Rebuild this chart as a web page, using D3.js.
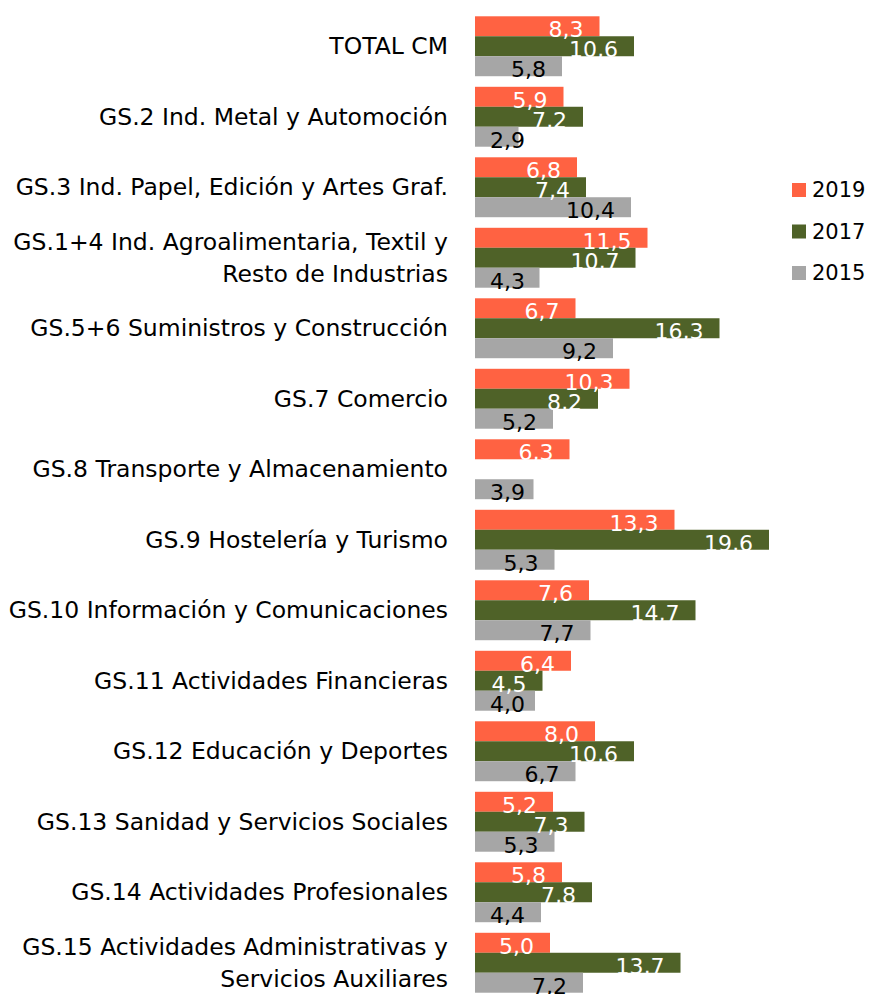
<!DOCTYPE html>
<html>
<head>
<meta charset="utf-8">
<script src="https://cdn.jsdelivr.net/npm/d3@7"></script>
<style>
  body { margin: 0; background: #fff; }
  text { font-family: "DejaVu Sans", Verdana, sans-serif; }
</style>
</head>
<body>
<script>
// categories (each label may wrap into two lines)
const categories = [
  ["TOTAL CM"],
  ["GS.2 Ind. Metal y Automoción"],
  ["GS.3 Ind. Papel, Edición y Artes Graf."],
  ["GS.1+4 Ind. Agroalimentaria, Textil y", "Resto de Industrias"],
  ["GS.5+6 Suministros y Construcción"],
  ["GS.7 Comercio"],
  ["GS.8 Transporte y Almacenamiento"],
  ["GS.9 Hostelería y Turismo"],
  ["GS.10 Información y Comunicaciones"],
  ["GS.11 Actividades Financieras"],
  ["GS.12 Educación y Deportes"],
  ["GS.13 Sanidad y Servicios Sociales"],
  ["GS.14 Actividades Profesionales"],
  ["GS.15 Actividades Administrativas y", "Servicios Auxiliares"]
]
const seriesNames = ["2019", "2017", "2015"]
const values2019 = [8.3, 5.9, 6.8, 11.5, 6.7, 10.3, 6.3, 13.3, 7.6, 6.4, 8.0, 5.2, 5.8, 5.0]
const values2017 = [10.6, 7.2, 7.4, 10.7, 16.3, 8.2, null, 19.6, 14.7, 4.5, 10.6, 7.3, 7.8, 13.7]
const values2015 = [5.8, 2.9, 10.4, 4.3, 9.2, 5.2, 3.9, 5.3, 7.7, 4.0, 6.7, 5.3, 4.4, 7.2]
const colors = ["#FF6242", "#4F6228", "#A6A6A6"]
const labelColors = ["#fff", "#fff", "#000"]

const width = 872, height = 994
const x0 = 475

const svg = d3.select("body").append("svg")
    .attr("width", width)
    .attr("height", height)

const keys = categories.map((c, i) => i)
const seriesValues = [values2019, values2017, values2015]

// x scale: 15 px per unit
const x = d3.scaleLinear()
    .domain([0, 20])
    .range([x0, x0 + 300])

const y = d3.scaleBand()
    .domain(keys)
    .range([11, 998])
    .paddingInner(0.15)
    .paddingOuter(0.075)

const ySub = d3.scaleBand()
    .domain([0, 1, 2])
    .range([0, y.bandwidth()])

// category labels
const catG = svg.append("g")
categories.forEach(function(lines, i) {
  const cy = y(i) + y.bandwidth() / 2
  const t = catG.append("text")
      .attr("x", 448)
      .attr("text-anchor", "end")
      .attr("font-size", 23.5)
      .attr("fill", "#000")
  const lh = 32
  lines.forEach(function(l, j) {
    t.append("tspan")
        .attr("x", 448)
        .attr("y", cy + (j - (lines.length - 1) / 2) * lh)
        .attr("dy", "0.35em")
        .text(l)
  })
})

// bars
const rows = []
keys.forEach(function(i) {
  seriesValues.forEach(function(vals, s) {
    if (vals[i] != null) rows.push({cat: i, s: s, v: vals[i]})
  })
})

svg.selectAll("rect.bar")
    .data(rows)
    .enter()
    .append("rect")
      .attr("class", "bar")
      .attr("x", x(0))
      .attr("y", d => y(d.cat) + ySub(d.s))
      .attr("width", d => x(d.v) - x(0))
      .attr("height", ySub.bandwidth())
      .attr("fill", d => colors[d.s])

// value labels (inside end, but never closer than 15px to the axis)
svg.selectAll("text.val")
    .data(rows)
    .enter()
    .append("text")
      .attr("class", "val")
      .attr("y", d => y(d.cat) + ySub(d.s) + ySub.bandwidth() + 1)
      .attr("text-anchor", "start")
      .attr("font-size", 22)
      .attr("fill", d => labelColors[d.s])
      .text(d => d3.format(".1f")(d.v).replace(".", ","))
      .attr("x", function(d) {
        const w = this.getComputedTextLength()
        return Math.max(x(0) + 15, x(d.v) - 16 - w)
      })

// legend
const legend = svg.append("g")
seriesNames.forEach(function(name, s) {
  const ly = 190 + s * 41.5
  legend.append("rect")
      .attr("x", 792)
      .attr("y", ly - 7)
      .attr("width", 14)
      .attr("height", 14)
      .attr("fill", colors[s])
  legend.append("text")
      .attr("x", 812)
      .attr("y", ly)
      .attr("dy", "0.35em")
      .attr("font-size", 21)
      .attr("fill", "#000")
      .text(name)
})
</script>
</body>
</html>
